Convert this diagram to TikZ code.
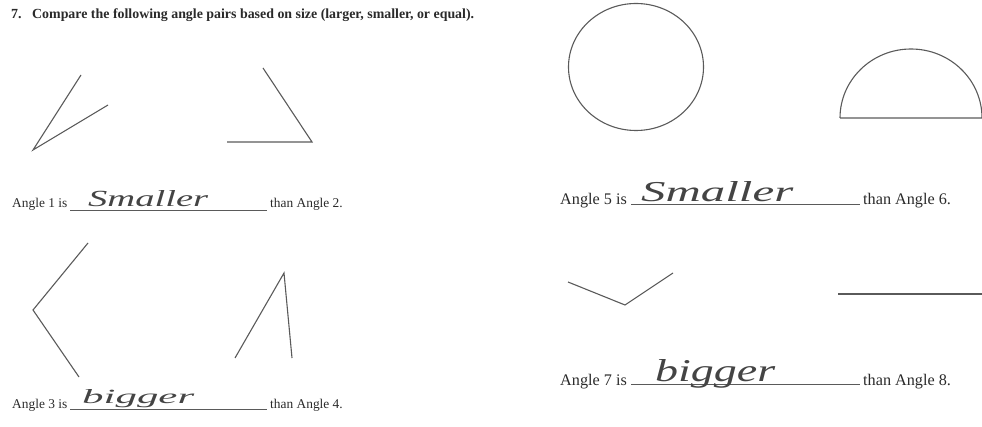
\documentclass[tikz,border=0pt]{standalone}
\usepackage{fontspec}
\setmainfont{Liberation Serif}
\usepackage{graphicx}
\usetikzlibrary{shapes.geometric}
\definecolor{ink}{HTML}{5A5A5A}
\definecolor{txt}{HTML}{2A2A2A}
\definecolor{pen}{HTML}{444444}
\begin{document}
\begin{tikzpicture}[x=1pt,y=-1pt,
  ray/.style={draw=ink,line width=1.1pt,line join=miter},
  lbl/.style={anchor=base west,inner sep=0pt,text=txt},
  lblL/.style={lbl,font=\fontsize{13.4}{15}\selectfont},
  lblR/.style={lbl,font=\fontsize{16.2}{18}\selectfont},
  hand/.style={anchor=base west,inner sep=0pt,text=pen,font=\itshape},
  uline/.style={draw=ink,line width=0.6pt}]
\useasboundingbox (0,0) rectangle (982,427);
% title
\node[lbl,font=\bfseries\fontsize{13.9}{15}\selectfont] (num) at (11,19) {7.};
\node[lbl,font=\bfseries\fontsize{13.9}{15}\selectfont] (title) at (32,19) {Compare the following angle pairs based on size (larger, smaller, or equal).};
% angle 1
\coordinate (a1p) at (81,75);
\coordinate (a1v) at (33,150);
\coordinate (a1q) at (108,105);
\draw[ray] (a1p) -- (a1v) -- (a1q);
% angle 2
\coordinate (a2p) at (263,68);
\coordinate (a2v) at (312,142);
\coordinate (a2q) at (227,142);
\draw[ray] (a2p) -- (a2v) -- (a2q);
% label 1
\node[lblL] (l1) at (12,208) {Angle 1 is};
\coordinate (u1a) at (70,210);
\coordinate (u1b) at (267,210);
\draw[uline] (u1a) -- (u1b);
\node[hand] (h1) at (88,207) {\resizebox{120pt}{16pt}{Smaller}};
\node[lblL] (r1) at (270,208) {than Angle 2.};
% angle 3
\coordinate (a3p) at (88,243);
\coordinate (a3v) at (33,310);
\coordinate (a3q) at (79,377);
\draw[ray] (a3p) -- (a3v) -- (a3q);
% angle 4
\coordinate (a4p) at (235,358);
\coordinate (a4v) at (284,273);
\coordinate (a4q) at (292,358);
\draw[ray] (a4p) -- (a4v) -- (a4q);
% label 3
\node[lblL] (l3) at (12,408) {Angle 3 is};
\coordinate (u3a) at (70,409);
\coordinate (u3b) at (267,409);
\draw[uline] (u3a) -- (u3b);
\node[hand] (h3) at (82,403) {\resizebox{112pt}{14pt}{bigger}};
\node[lblL] (r3) at (270,408) {than Angle 4.};
% angle 5: circle
\node[draw=ink,line width=1.1pt,ellipse,minimum width=135pt,minimum height=127pt,inner sep=0pt] (c5) at (636,67) {};
% angle 6: semicircle
\coordinate (s6a) at (840,118);
\coordinate (s6b) at (982,118);
\draw[ray] (s6a) arc[start angle=180,end angle=360,x radius=71,y radius=69] -- (s6a);
% label 5
\node[lblR] (l5) at (560,205) {Angle 5 is};
\coordinate (u5a) at (631,204);
\coordinate (u5b) at (860,204);
\draw[uline] (u5a) -- (u5b);
\node[hand] (h5) at (641,202) {\resizebox{152pt}{20pt}{Smaller}};
\node[lblR] (r5) at (863,205) {than Angle 6.};
% angle 7
\coordinate (a7p) at (568,282);
\coordinate (a7v) at (625,305);
\coordinate (a7q) at (673,273);
\draw[ray] (a7p) -- (a7v) -- (a7q);
% angle 8
\coordinate (a8a) at (838,294);
\coordinate (a8b) at (982,294);
\draw[ray] (a8a) -- (a8b);
% label 7
\node[lblR] (l7) at (560,385) {Angle 7 is};
\coordinate (u7a) at (631,384);
\coordinate (u7b) at (860,384);
\draw[uline] (u7a) -- (u7b);
\node[hand] (h7) at (655,381) {\resizebox{120pt}{22pt}{bigger}};
\node[lblR] (r7) at (863,385) {than Angle 8.};
\end{tikzpicture}
\end{document}
